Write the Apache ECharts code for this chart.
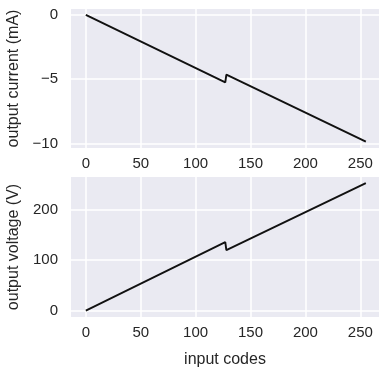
<!DOCTYPE html>
<html><head><meta charset="utf-8">
<script src="https://cdn.jsdelivr.net/npm/echarts@6/dist/echarts.min.js"></script>
<style>html,body{margin:0;padding:0;background:#fff}#c{width:389px;height:375px}</style>
</head><body><div id="c"></div>
<script>
const codes = [0, 127, 128, 255];
const currentMA = [0.0, -5.25, -4.65, -9.85];
const voltageV = [0.0, 136, 120, 252.8];
const xTicks = [0, 50, 100, 150, 200, 250];
const currentTicks = [-10, -5, 0];
const voltageTicks = [0, 100, 200];

const FONT = '"Liberation Sans", Arial, sans-serif';
const TXT = '#262626';
const fmt = v => String(v).replace('-', '\u2212');

function xAxisCfg(gi, name) {
  return {
    type: 'value', gridIndex: gi, min: -13.5, max: 267,
    name: name, nameLocation: 'middle', nameGap: 35,
    nameTextStyle: {fontFamily: FONT, fontSize: 16, color: TXT},
    axisLine: {show: false},
    axisTick: {show: false, customValues: xTicks},
    axisLabel: {customValues: xTicks, fontFamily: FONT, fontSize: 15, color: TXT, margin: 8, formatter: fmt},
    splitLine: {show: true, lineStyle: {color: '#ffffff', width: 1.5}}
  };
}
function yAxisCfg(gi, name, mn, mx, ticks) {
  return {
    type: 'value', gridIndex: gi, min: mn, max: mx,
    name: name, nameLocation: 'middle', nameGap: 45,
    nameTextStyle: {fontFamily: FONT, fontSize: 16, color: TXT},
    axisLine: {show: false},
    axisTick: {show: false, customValues: ticks},
    axisLabel: {customValues: ticks, fontFamily: FONT, fontSize: 15, color: TXT, margin: 13, formatter: fmt},
    splitLine: {show: true, lineStyle: {color: '#ffffff', width: 1.5}}
  };
}

const chart = echarts.init(document.getElementById('c'), null, {renderer: 'canvas'});
chart.setOption({
  animation: false,
  grid: [
    {left: 71, right: 10, top: 9, height: 139, show: true, backgroundColor: '#EAEAF2', borderWidth: 0, containLabel: false, outerBoundsMode: 'none'},
    {left: 71, right: 10, top: 177, height: 140, show: true, backgroundColor: '#EAEAF2', borderWidth: 0, containLabel: false, outerBoundsMode: 'none'}
  ],
  xAxis: [xAxisCfg(0, ''), xAxisCfg(1, 'input codes')],
  yAxis: [
    yAxisCfg(0, 'output current (mA)', -10.35, 0.45, currentTicks),
    yAxisCfg(1, 'output voltage (V)', -12.6, 265, voltageTicks)
  ],
  series: [
    {type: 'line', xAxisIndex: 0, yAxisIndex: 0, data: codes.map((c, i) => [c, currentMA[i]]),
     showSymbol: false, lineStyle: {color: '#111111', width: 1.9}},
    {type: 'line', xAxisIndex: 1, yAxisIndex: 1, data: codes.map((c, i) => [c, voltageV[i]]),
     showSymbol: false, lineStyle: {color: '#111111', width: 1.9}}
  ]
});
</script></body></html>
